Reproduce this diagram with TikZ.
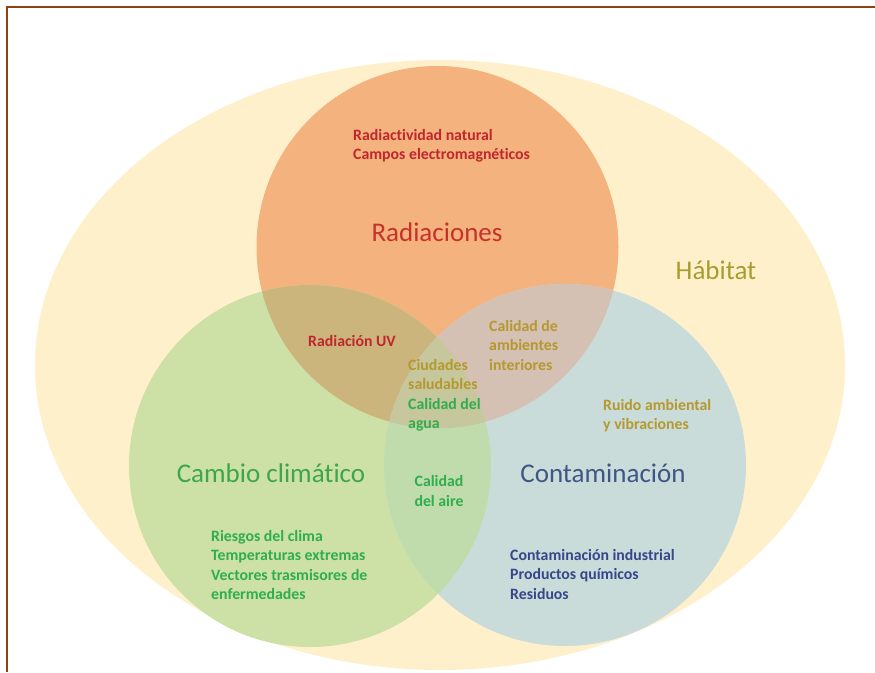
\documentclass[tikz,border=0pt]{standalone}
\usepackage{fontspec}
\setmainfont{Carlito}[Ligatures=NoCommon]
\definecolor{cHab}{HTML}{FFF0CC}
\definecolor{cR}{HTML}{F4B27E}
\definecolor{cG}{HTML}{CDE0A5}
\definecolor{cB}{HTML}{CADCD9}
\definecolor{cRG}{HTML}{CBB57D}
\definecolor{cRB}{HTML}{D5C0B4}
\definecolor{cGB}{HTML}{C1DCAC}
\definecolor{cRGB}{HTML}{C6C79C}
\definecolor{tRed}{HTML}{C0272D}
\definecolor{tRedBig}{HTML}{C8312A}
\definecolor{tGold}{HTML}{B5982F}
\definecolor{tGreen}{HTML}{2FAE4E}
\definecolor{tGreenBig}{HTML}{3DA64A}
\definecolor{tBlue}{HTML}{35478A}
\definecolor{tBlueBig}{HTML}{3E5585}
\definecolor{tHab}{HTML}{A99C2E}
\definecolor{frameC}{HTML}{8A4512}
\tikzset{
  small/.style={inner sep=0pt, font=\fontsize{15.8}{19.5}\selectfont\bfseries, align=left},
  big/.style={inner sep=0pt, font=\fontsize{27}{31}\selectfont}
}
\begin{document}
\begin{tikzpicture}[x=1pt,y=-1pt]
\useasboundingbox (0,0) rectangle (875,672);
\fill[white] (0,0) rectangle (875,672);
\coordinate (cH) at (440,365);
\coordinate (cRad) at (437.5,247);
\coordinate (cCam) at (310,466);
\coordinate (cCon) at (565,465);
\def\rr{181}
% habitat
\fill[cHab] (cH) ellipse [x radius=405, y radius=305];
% circles
\fill[cR] (cRad) circle (\rr);
\fill[cG] (cCam) circle (\rr);
\fill[cB] (cCon) circle (\rr);
\begin{scope}
  \clip (cCam) circle (\rr);
  \fill[cGB] (cCon) circle (\rr);
\end{scope}
\begin{scope}
  \clip (cRad) circle (\rr);
  \fill[cRG] (cCam) circle (\rr);
  \fill[cRB] (cCon) circle (\rr);
  \clip (cCam) circle (\rr);
  \fill[cRGB] (cCon) circle (\rr);
\end{scope}
% frame
\draw[frameC, line width=2pt] (7,672) -- (7,7) -- (875,7);
% labels
\node[small, text=tRed, anchor=north west] (radsub) at (353,129) {Radiactividad natural\\Campos electromagnéticos};
\node[big, text=tRedBig] (rad) at (437,232) {Radiaciones};
\node[big, text=tHab] (hab) at (716,270) {Hábitat};
\node[small, text=tRed] (uv) at (352,341) {Radiación UV};
\node[small, text=tGold, anchor=north west] (interior) at (489,320) {Calidad de\\ambientes\\interiores};
\node[small, text=tGold, anchor=north west] (ciudades) at (408,359) {Ciudades\\saludables};
\node[small, text=tGreen, anchor=north west] (agua) at (408,398) {Calidad del\\agua};
\node[small, text=tGold, anchor=north west] (ruido) at (603,399) {Ruido ambiental\\y vibraciones};
\node[big, text=tGreenBig] (cambio) at (271,473) {Cambio climático};
\node[small, text=tGreen, align=center] (aire) at (439,491) {Calidad\\del aire};
\node[big, text=tBlueBig] (conta) at (603,473) {Contaminación};
\node[small, text=tGreen, anchor=north west] (riesgos) at (211,530) {Riesgos del clima\\Temperaturas extremas\\Vectores trasmisores de\\enfermedades};
\node[small, text=tBlue, anchor=north west] (indus) at (510,549) {Contaminación industrial\\Productos químicos\\Residuos};
\end{tikzpicture}
\end{document}
